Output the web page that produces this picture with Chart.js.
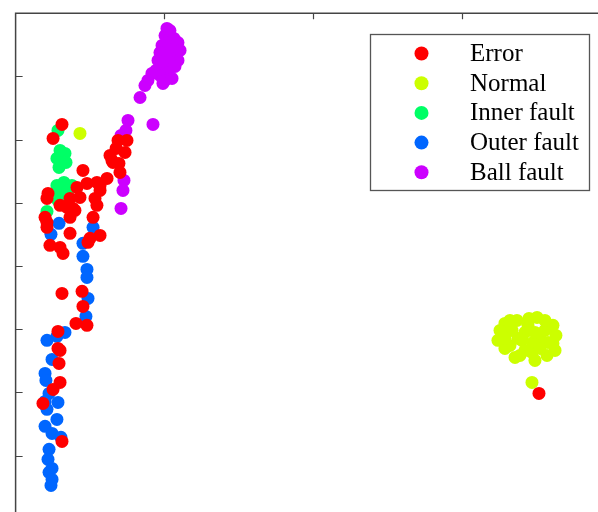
<!DOCTYPE html>
<html>
<head>
<meta charset="utf-8">
<script src="https://cdn.jsdelivr.net/npm/chart.js@4"></script>
<style>
  html, body { margin: 0; padding: 0; background: #fff; }
  #c { display: block; }
</style>
</head>
<body>
<canvas id="c" width="598" height="512"></canvas>
<script>
const seriesNames = ["Error", "Normal", "Inner fault", "Outer fault", "Ball fault"];
const seriesColors = ["#ff0000", "#ccff00", "#00ff66", "#0066ff", "#cc00ff"];
const xTicks = [1, 2, 3];
const yTicks = [1, 2, 3, 4, 5, 6, 7];

const errorPts = [
  [0.312,6.241],[0.252,6.020],[0.453,5.514],[0.615,5.387],[0.547,5.324],[0.480,5.308],
  [0.413,5.245],[0.433,5.087],[0.568,5.198],[0.534,5.071],[0.547,4.961],[0.218,5.150],
  [0.211,5.071],[0.366,5.071],[0.386,4.913],[0.346,4.929],[0.299,4.961],[0.366,4.771],
  [0.198,4.771],[0.211,4.613],[0.521,4.771],[0.568,4.486],[0.366,4.518],[0.500,4.439],
  [0.231,4.328],[0.299,4.296],[0.319,4.201],[0.676,5.862],[0.689,5.988],[0.736,5.799],
  [0.648,5.672],[0.695,5.625],[0.702,5.482],[0.635,5.751],[0.749,5.988],[0.655,5.640],
  [0.568,5.277],[0.399,4.881],[0.211,4.692],[0.487,4.376],[0.312,3.568],[0.447,3.600],
  [0.453,3.362],[0.406,3.093],[0.480,3.062],[0.285,2.967],[0.299,2.666],[0.292,2.460],
  [0.299,2.160],[0.252,2.049],[0.184,1.827],[0.312,1.226],[0.285,2.698],[3.520,1.986]
];
const normalPts = [
  [0.433,6.099],
  [3.291,3.093],[3.372,3.141],[3.507,3.188],[3.614,3.062],[3.271,2.872],[3.325,2.745],
  [3.359,2.555],[3.473,2.634],[3.574,2.587],[3.614,2.777],[3.426,2.951],[3.527,2.856],
  [3.446,3.062],[3.379,2.856],[3.291,2.698],[3.480,2.793],[3.560,2.982],[3.244,2.825],
  [3.634,2.903],[3.339,2.982],[3.406,2.825],[3.493,2.951],[3.581,2.793],[3.426,2.666],
  [3.527,2.698],[3.325,3.141],[3.560,3.141],[3.453,3.172],[3.258,2.982],[3.628,2.666],
  [3.392,2.587],[3.493,2.508],[3.291,2.856],
  [3.473,2.160]
];
const innerPts = [
  [0.285,6.147],[0.278,5.704],[0.332,5.783],[0.292,5.561],[0.325,5.324],[0.379,5.277],
  [0.299,5.150],[0.332,5.040],[0.312,5.198],[0.346,5.071],[0.319,5.672],[0.211,4.865],
  [0.299,5.830],[0.339,5.640],[0.278,5.277],[0.352,5.198],[0.285,5.040]
];
const outerPts = [
  [0.292,4.676],[0.238,4.502],[0.521,4.613],[0.453,4.360],[0.453,4.154],[0.480,3.948],
  [0.480,3.821],[0.487,3.489],[0.473,3.204],[0.332,2.951],[0.278,2.888],[0.211,2.825],
  [0.245,2.524],[0.198,2.302],[0.204,2.191],[0.225,1.986],[0.198,1.859],[0.285,1.843],
  [0.211,1.733],[0.278,1.574],[0.198,1.464],[0.245,1.353],[0.305,1.290],[0.225,1.100],
  [0.218,0.942],[0.245,0.799],[0.225,0.736],[0.245,0.625],[0.238,0.530]
];
const ballPts = [
  [1.038,7.728],[1.005,7.649],[1.065,7.602],[1.025,7.538],[0.985,7.491],[1.079,7.475],
  [1.038,7.412],[0.971,7.380],[1.065,7.333],[1.011,7.317],[1.092,7.254],[0.958,7.254],
  [1.038,7.222],[0.991,7.159],[1.072,7.159],[0.944,7.096],[1.025,7.064],[0.971,7.017],
  [1.052,6.969],[0.917,7.048],[1.005,6.938],[0.991,6.890],[0.890,6.938],[0.870,6.858],
  [0.837,6.668],[1.092,7.538],[1.018,7.760],[1.106,7.412],
  [0.756,6.305],[0.742,6.147],[0.709,6.067],[0.924,6.241],[0.729,5.356],[0.722,5.198],
  [0.709,4.913]
];
const allSeries = [errorPts, normalPts, innerPts, outerPts, ballPts];

const framePlugin = {
  id: 'frame',
  afterDatasetsDraw(chart) {
    const ctx = chart.ctx;
    const a = chart.chartArea;
    const xs = chart.scales.x, ys = chart.scales.y;
    ctx.save();
    ctx.strokeStyle = '#444444';
    ctx.lineWidth = 1.5;
    ctx.beginPath();
    ctx.moveTo(a.left, a.bottom);
    ctx.lineTo(a.left, a.top);
    ctx.lineTo(a.right, a.top);
    ctx.stroke();
    ctx.lineWidth = 1.2;
    ctx.beginPath();
    xTicks.forEach(v => {
      const px = Math.round(xs.getPixelForValue(v)) + 0.5;
      ctx.moveTo(px, a.top);
      ctx.lineTo(px, a.top + 6);
    });
    yTicks.forEach(v => {
      const py = Math.round(ys.getPixelForValue(v)) + 0.5;
      ctx.moveTo(a.left, py);
      ctx.lineTo(a.left + 7, py);
    });
    ctx.stroke();

    // legend
    const bx = 370.5, by = 34.5, bw = 219, bh = 156;
    ctx.fillStyle = '#ffffff';
    ctx.fillRect(bx, by, bw, bh);
    ctx.strokeStyle = '#555555';
    ctx.lineWidth = 1.3;
    ctx.strokeRect(bx, by, bw, bh);
    ctx.font = '25px "Liberation Serif", "Times New Roman", serif';
    ctx.textBaseline = 'middle';
    ctx.textAlign = 'left';
    chart.data.datasets.forEach((ds, i) => {
      const cy = 53.5 + i * 29.7;
      ctx.fillStyle = ds.backgroundColor;
      ctx.beginPath();
      ctx.arc(421.5, cy, 7, 0, Math.PI * 2);
      ctx.fill();
      ctx.fillStyle = '#000000';
      ctx.fillText(ds.label, 470, cy + 1);
    });
    ctx.restore();
  }
};

new Chart(document.getElementById('c'), {
  type: 'scatter',
  data: {
    datasets: seriesNames.map((name, i) => ({
      label: name,
      data: allSeries[i].map(p => ({ x: p[0], y: p[1] })),
      backgroundColor: seriesColors[i],
      borderWidth: 0,
      pointRadius: 6.5,
      pointHoverRadius: 6.5
    }))
  },
  options: {
    responsive: false,
    animation: false,
    layout: { autoPadding: false, padding: { left: 15.6, top: 13.3, right: 0, bottom: 0 } },
    plugins: { legend: { display: false }, tooltip: { enabled: false } },
    scales: {
      x: { type: 'linear', min: 0, max: 3.917, display: false },
      y: { type: 'linear', min: 0.109, max: 8, display: false }
    }
  },
  plugins: [framePlugin]
});
</script>
</body>
</html>
